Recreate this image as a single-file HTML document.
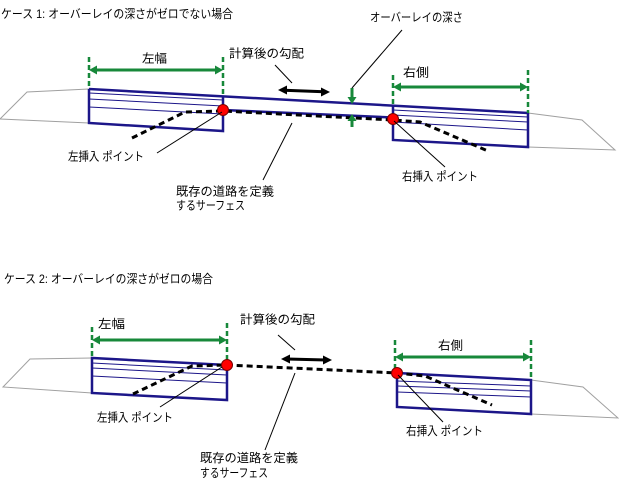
<!DOCTYPE html>
<html><head><meta charset="utf-8"><style>
html,body{margin:0;padding:0;background:#fff;}
svg{display:block;}
text{font-family:"Liberation Sans","Noto Sans CJK JP",sans-serif;font-size:12px;fill:#000;}
</style></head><body>
<svg width="619" height="486" viewBox="0 0 619 486" xmlns="http://www.w3.org/2000/svg">
<rect width="619" height="486" fill="#fff"/>

<!-- ================= CASE 1 ================= -->
<text x="1" y="18" textLength="232" lengthAdjust="spacingAndGlyphs">ケース 1: オーバーレイの深さがゼロでない場合</text>

<!-- gray side slopes -->
<polyline points="89,89 27,92 0,119 89,123" fill="none" stroke="#a0a0a0" stroke-width="1"/>
<polyline points="528,113 582,120 615,150 528,147" fill="none" stroke="#a0a0a0" stroke-width="1"/>

<!-- inner thin lines -->
<g stroke="#1c1689" stroke-width="1" fill="none">
<line x1="89" y1="93" x2="223" y2="100"/>
<line x1="89" y1="99" x2="223" y2="106"/>
<line x1="89" y1="107" x2="223" y2="114"/>
<line x1="393" y1="110" x2="528" y2="117"/>
<line x1="393" y1="115" x2="528" y2="122"/>
<line x1="393" y1="122" x2="528" y2="130"/>
</g>
<!-- boxes and road -->
<g stroke="#1c1689" stroke-width="2.5" fill="none">
<line x1="89" y1="89" x2="528" y2="113"/>
<polyline points="89,89 89,123 223,131 223,96"/>
<polyline points="393,106 393,140 528,147 528,113"/>
<line x1="223" y1="110" x2="393" y2="117.5"/>
</g>

<!-- existing surface dashed -->
<g stroke="#000" stroke-width="3" fill="none" stroke-dasharray="6,4">
<polyline points="132,138 185,112 223,111 393,120 420,122 488,151"/>
</g>

<!-- green dimension lines -->
<g stroke="#17883a" stroke-width="2.5" fill="none" stroke-dasharray="5,3">
<line x1="89" y1="57" x2="89" y2="89"/>
<line x1="223" y1="57" x2="223" y2="96"/>
<line x1="393" y1="75" x2="393" y2="106"/>
<line x1="528" y1="70" x2="528" y2="113"/>
</g>
<g stroke="#17883a" stroke-width="3" fill="none">
<line x1="94" y1="70" x2="218" y2="70"/>
<line x1="398" y1="87" x2="523" y2="87"/>
<line x1="352" y1="88" x2="352" y2="99"/>
<line x1="352" y1="127" x2="352" y2="118"/>
</g>
<g fill="#17883a">
<polygon points="89,70 97,65.5 97,74.5"/>
<polygon points="223,70 215,65.5 215,74.5"/>
<polygon points="393,87 401,82.5 401,91.5"/>
<polygon points="528,87 520,82.5 520,91.5"/>
<polygon points="352,104 347.5,97 356.5,97"/>
<polygon points="352,114 347.5,121 356.5,121"/>
</g>

<!-- black double arrow -->
<line x1="284" y1="90.2" x2="324" y2="91.8" stroke="#000" stroke-width="3"/>
<polygon points="278,90 287,85.5 287,94.5" fill="#000"/>
<polygon points="330,92 321,87.5 321,96.5" fill="#000"/>

<!-- red insertion points -->
<circle cx="223" cy="110" r="5.5" fill="#ff0000" stroke="#7a0000" stroke-width="1"/>
<circle cx="393" cy="119" r="5.5" fill="#ff0000" stroke="#7a0000" stroke-width="1"/>

<!-- leaders -->
<g stroke="#000" stroke-width="1" fill="none">
<line x1="275" y1="65" x2="292" y2="83"/>
<line x1="352" y1="88" x2="402" y2="30"/>
<line x1="157" y1="153" x2="222" y2="112"/>
<line x1="394" y1="121" x2="445" y2="167"/>
<line x1="263" y1="180" x2="292" y2="123"/>
</g>

<text x="142" y="62.5" textLength="25" lengthAdjust="spacingAndGlyphs">左幅</text>
<text x="229" y="57.5" textLength="75" lengthAdjust="spacingAndGlyphs">計算後の勾配</text>
<text x="370" y="21.5" textLength="93" lengthAdjust="spacingAndGlyphs">オーバーレイの深さ</text>
<text x="403" y="76.5" textLength="26" lengthAdjust="spacingAndGlyphs">右側</text>
<text x="68" y="160.5" textLength="76" lengthAdjust="spacingAndGlyphs">左挿入 ポイント</text>
<text x="402" y="180.5" textLength="76" lengthAdjust="spacingAndGlyphs">右挿入 ポイント</text>
<text x="176" y="195.5" textLength="98" lengthAdjust="spacingAndGlyphs">既存の道路を定義</text>
<text x="176" y="209.5" textLength="69" lengthAdjust="spacingAndGlyphs">するサーフェス</text>

<!-- ================= CASE 2 ================= -->
<text x="4" y="283" textLength="209" lengthAdjust="spacingAndGlyphs">ケース 2: オーバーレイの深さがゼロの場合</text>

<polyline points="92,358 30,359 3,387 92,393" fill="none" stroke="#a0a0a0" stroke-width="1"/>
<polyline points="531,380 583,387 618,418 531,414" fill="none" stroke="#a0a0a0" stroke-width="1"/>

<g stroke="#1c1689" stroke-width="1" fill="none">
<line x1="92" y1="363" x2="227" y2="370"/>
<line x1="92" y1="368" x2="227" y2="375"/>
<line x1="92" y1="376" x2="227" y2="383"/>
<line x1="397" y1="381" x2="531" y2="386"/>
<line x1="397" y1="386" x2="531" y2="391"/>
<line x1="397" y1="392" x2="531" y2="397"/>
</g>
<g stroke="#1c1689" stroke-width="2.5" fill="none">
<polyline points="227,365 92,358 92,393 227,400 227,365"/>
<polyline points="397,373 531,380 531,414 397,407 397,373"/>
</g>

<g stroke="#000" stroke-width="3" fill="none" stroke-dasharray="6,4">
<polyline points="133,394 192,366 227,365 397,373 425,376 492,405"/>
</g>

<g stroke="#17883a" stroke-width="2.5" fill="none" stroke-dasharray="5,3">
<line x1="92" y1="327" x2="92" y2="358"/>
<line x1="227" y1="323" x2="227" y2="365"/>
<line x1="395" y1="340" x2="395" y2="373"/>
<line x1="531" y1="340" x2="531" y2="380"/>
</g>
<g stroke="#17883a" stroke-width="3" fill="none">
<line x1="97" y1="340" x2="222" y2="340"/>
<line x1="400" y1="357" x2="526" y2="357"/>
</g>
<g fill="#17883a">
<polygon points="92,340 100,335.5 100,344.5"/>
<polygon points="227,340 219,335.5 219,344.5"/>
<polygon points="395,357 403,352.5 403,361.5"/>
<polygon points="531,357 523,352.5 523,361.5"/>
</g>

<line x1="287" y1="359" x2="326" y2="360" stroke="#000" stroke-width="3"/>
<polygon points="281,359 290,354.5 290,363.5" fill="#000"/>
<polygon points="332,360 323,355.5 323,364.5" fill="#000"/>

<circle cx="227" cy="365" r="5.5" fill="#ff0000" stroke="#7a0000" stroke-width="1"/>
<circle cx="397" cy="373" r="5.5" fill="#ff0000" stroke="#7a0000" stroke-width="1"/>

<g stroke="#000" stroke-width="1" fill="none">
<line x1="278" y1="335" x2="295" y2="350"/>
<line x1="160" y1="407" x2="222" y2="367"/>
<line x1="265" y1="450" x2="295" y2="373"/>
<line x1="398" y1="375" x2="443" y2="422"/>
</g>

<text x="98" y="328" textLength="27" lengthAdjust="spacingAndGlyphs">左幅</text>
<text x="240" y="323.5" textLength="75" lengthAdjust="spacingAndGlyphs">計算後の勾配</text>
<text x="438" y="349.5" textLength="25" lengthAdjust="spacingAndGlyphs">右側</text>
<text x="97" y="421.5" textLength="76" lengthAdjust="spacingAndGlyphs">左挿入 ポイント</text>
<text x="406" y="435" textLength="77" lengthAdjust="spacingAndGlyphs">右挿入 ポイント</text>
<text x="200" y="462" textLength="98" lengthAdjust="spacingAndGlyphs">既存の道路を定義</text>
<text x="200" y="477" textLength="68" lengthAdjust="spacingAndGlyphs">するサーフェス</text>
</svg>
</body></html>
